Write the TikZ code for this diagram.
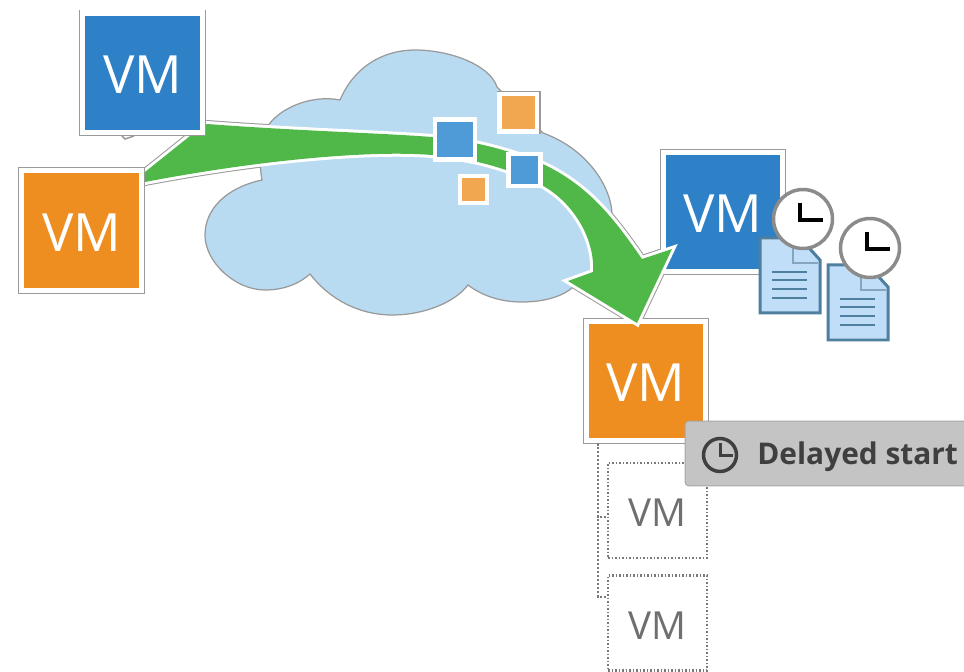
\documentclass[tikz,border=0pt]{standalone}
\usepackage{fontspec}
\setmainfont{Open Sans}
\definecolor{vmblue}{HTML}{2E81C6}
\definecolor{vmorange}{HTML}{EE8E21}
\definecolor{pktblue}{HTML}{4F9BD8}
\definecolor{pktorange}{HTML}{F1A650}
\definecolor{cloudblue}{HTML}{B9DBF1}
\definecolor{flowgreen}{HTML}{4FB848}
\definecolor{edgegray}{HTML}{9A9A9A}
\definecolor{docblue}{HTML}{C0DEF8}
\definecolor{docedge}{HTML}{4F7F9F}
\definecolor{notegray}{HTML}{C4C4C4}
\definecolor{notetext}{HTML}{3F3F3F}
\tikzset{vm/.style={minimum size=2.4cm,inner sep=0pt,text=white,line width=0.1cm,draw=white,
            preaction={draw=edgegray,line width=0.14cm},font=\fontsize{30}{30}\selectfont,
            text height=23.7pt,text depth=0pt},
         vmdashed/.style={draw=notetext!70,line width=0.045cm,dash pattern=on 0.035cm off 0.035cm,
            minimum width=1.98cm,minimum height=1.9cm,inner sep=0pt,text=notetext!75,font=\fontsize{22}{22}\selectfont,
            text height=18.5pt,text depth=0pt},
         vmlink/.style={draw=notetext!70,line width=0.05cm,dash pattern=on 0.05cm off 0.03cm},
         packet/.style={inner sep=0pt,draw=white,line width=0.09cm},
         clock/.style={circle,draw=edgegray!90!black,fill=white,line width=0.07cm,minimum size=1.18cm,inner sep=0pt},
         hands/.style={line width=0.09cm}}
\newcommand{\flowpath}{(207,124)..controls (300,131) and (380,133)..(432,137)
    ..controls (470,140) and (510,150)..(545,165)
    ..controls (590,187) and (615,220)..(642,259)
    --(672,249)--(637,323)--(568,281)--(593,272)
    ..controls (595,240) and (575,205)..(545,187)
    ..controls (510,168) and (470,158)..(432,155)
    ..controls (370,150) and (260,160)..(145,182)
    --(145,172)--(190,136)--cycle}

\begin{document}
\begin{tikzpicture}[x=0.02cm,y=-0.02cm]
        \useasboundingbox (0,0) rectangle (964,672);

        % outline of the flow shows only outside the cloud
        \draw[edgegray,line width=0.16cm]\flowpath;

        % cloud
        \draw[fill=cloudblue,draw=edgegray,line width=0.025cm](262,180)
            ..controls (225,188) and (205,210)..(205,235)
            ..controls (205,262) and (235,290)..(265,290)
            ..controls (285,290) and (300,283)..(310,274)
            ..controls (330,300) and (360,315)..(392,315)
            ..controls (425,315) and (455,302)..(468,285)
            ..controls (485,298) and (505,302)..(522,302)
            ..controls (545,302) and (565,296)..(575,285)
            ..controls (600,270) and (612,240)..(612,215)
            ..controls (612,190) and (590,150)..(543,133)
            --(497,87)
            ..controls (490,65) and (450,50)..(415,50)
            ..controls (385,50) and (355,65)..(340,100)
            ..controls (315,95) and (285,105)..(270,123)
            ..controls (262,135) and (258,160)..(262,180)--cycle;

        \node[vm,fill=vmblue](vmc)at(723,212){VM};
        \node[vm,fill=vmorange](vmd)at(646,381){VM};

        % green flow
        \fill[flowgreen,preaction={draw=white,line width=0.12cm}]\flowpath;

        \node[vm,fill=vmblue](vma)at(142.5,73){VM};
        \node[vm,fill=vmorange](vmb)at(81.5,230.5){VM};
        \draw[white,line width=0.04cm](vma.north west)--(vma.north east);
        \draw[edgegray,line width=0.03cm](122,136)--(125,139)--(134,136);

        % packets
        \node[packet,fill=pktorange,minimum size=0.76cm](pkta)at(518.5,112.5){};
        \draw[edgegray,line width=0.03cm](pkta.north west)--(pkta.north east)--(pkta.south east);
        \node[packet,fill=pktblue,minimum size=0.8cm](pktb)at(455,139.5){};
        \node[packet,fill=pktblue,minimum size=0.64cm](pktc)at(524.5,170){};
        \node[packet,fill=pktorange,minimum size=0.54cm](pktd)at(473.5,189.5){};

        % logs
        \foreach \x/\y/\cx/\cy/\name in {760/238/803/219/a,828/265/870/248/b}{
            \draw[fill=docblue,draw=docedge,line width=0.06cm](\x,\y)--(\x+40,\y)--(\x+60,\y+22)--(\x+60,\y+75)--(\x,\y+75)--cycle;
            \draw[docedge!70,line width=0.03cm](\x+33,\y+3)--(\x+33,\y+25)--(\x+58,\y+25);
            \foreach \l in {34,42,51,60}
                \draw[docedge,line width=0.04cm](\x+12,\y+\l)--(\x+47,\y+\l);
            \node[clock](clock\name)at(\cx,\cy){};
            \draw[hands](\cx-3,\cy-16)--(\cx-3,\cy+1)--(\cx+20,\cy+1);
        }

        % delayed start
        \node[vmdashed](vme)at(657.5,510.5){VM};
        \node[vmdashed](vmf)at(657.5,623){VM};
        \coordinate(tap)at(598,443);
        \draw[vmlink](tap)|-([yshift=-0.13cm]vme.west);
        \draw[vmlink](tap)|-([yshift=0.52cm]vmf.west);

        \node[fill=notegray,draw=notegray!85!black,line width=0.02cm,rounded corners=0.08cm,minimum width=5.7cm,minimum height=1.3cm,inner sep=0pt](note)at(827.5,453.5){};
        \node[circle,draw=notetext,line width=0.07cm,minimum size=0.66cm,inner sep=0pt](noteclock)at(720,455){};
        \draw[notetext,line width=0.06cm](720,443)--(720,455)--(733,455);
        \node[anchor=west,inner sep=0pt,text=notetext,font=\bfseries\fontsize{17}{17}\selectfont](notelabel)at(757,457){Delayed start};
    \end{tikzpicture}
\end{document}
